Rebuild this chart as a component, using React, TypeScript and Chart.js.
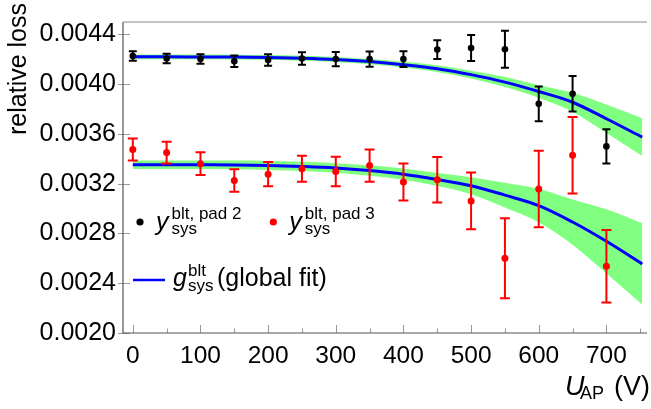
import React, { useEffect, useRef } from "react";
import { Chart, registerables } from "chart.js";

Chart.register(...registerables);

// ---- data ----
const voltages = [0, 50, 100, 150, 200, 250, 300, 350, 400, 450, 500, 550, 600, 650, 700];
const lossPad2 = [0.004227, 0.004207, 0.004202, 0.004184, 0.004195, 0.004207, 0.004202, 0.004202, 0.004202, 0.004278, 0.004291, 0.004281, 0.003842, 0.003923, 0.0035];
const errPad2 = [0.000038, 0.000038, 0.000038, 0.000046, 0.000046, 0.00005, 0.000057, 0.000061, 0.000063, 0.000076, 0.000104, 0.000149, 0.00014, 0.000142, 0.000137];
const lossPad3 = [0.003475, 0.00345, 0.003361, 0.003226, 0.003277, 0.00332, 0.003298, 0.003346, 0.003214, 0.003232, 0.003062, 0.002601, 0.003158, 0.003429, 0.002537];
const errPad3 = [0.000089, 0.000088, 0.000091, 0.000091, 0.000098, 0.000105, 0.000118, 0.00013, 0.000149, 0.000182, 0.000229, 0.000322, 0.000308, 0.000307, 0.000291];

const fitVoltages = [0, 50, 100, 150, 200, 250, 300, 350, 400, 450, 500, 550, 600, 650, 700, 753];
const fitPad2 = [0.00422, 0.00422, 0.004219, 0.004218, 0.004215, 0.004209, 0.004199, 0.004182, 0.004157, 0.004125, 0.004077, 0.004017, 0.003941, 0.003855, 0.003722, 0.003574];
const bandPad2 = [0.000019, 0.000019, 0.000019, 0.000019, 0.000019, 0.00002, 0.00002, 0.000021, 0.000023, 0.000027, 0.000032, 0.00004, 0.000051, 0.000076, 0.000114, 0.000152];
const fitPad3 = [0.003353, 0.003353, 0.003352, 0.003351, 0.003347, 0.003339, 0.003327, 0.003306, 0.003277, 0.003234, 0.003184, 0.003108, 0.003024, 0.002892, 0.002737, 0.002555];
const bandPad3 = [0.000034, 0.000034, 0.000034, 0.000035, 0.000036, 0.000037, 0.000038, 0.000042, 0.000046, 0.000053, 0.000068, 0.000099, 0.000133, 0.000182, 0.000258, 0.000327];

const xMajorTicks = [0, 100, 200, 300, 400, 500, 600, 700];
const xMinorTicks = [50, 150, 250, 350, 450, 550, 650, 750];
const yMajorTicks = [0.002, 0.0024, 0.0028, 0.0032, 0.0036, 0.004, 0.0044];

const FONT = '"Liberation Sans", Arial, sans-serif';
const GREEN = "#80ff80";
const BLUE = "#0000ff";

const pts = (xs: number[], ys: number[]) => xs.map((x, i) => ({ x, y: ys[i] }));
const shifted = (xs: number[], ys: number[], d: number[], s: number) =>
  xs.map((x, i) => ({ x, y: ys[i] + s * d[i] }));

const errorBarPlugin = {
  id: "errorBars",
  beforeDatasetDraw(chart: any, args: any) {
    const ds = chart.data.datasets[args.index];
    if (!ds.errorBars) return;
    const { ctx, scales } = chart;
    const xs = scales.x;
    const ys = scales.y;
    ctx.save();
    ctx.strokeStyle = ds.errorColor;
    ctx.lineWidth = 2;
    ds.data.forEach((p: any, i: number) => {
      const e = ds.errorBars[i];
      const px = xs.getPixelForValue(p.x);
      const top = ys.getPixelForValue(p.y + e);
      const bot = ys.getPixelForValue(p.y - e);
      const c = ds.capHalf;
      ctx.beginPath();
      ctx.moveTo(px, top);
      ctx.lineTo(px, bot);
      ctx.moveTo(px - c, top);
      ctx.lineTo(px + c, top);
      ctx.moveTo(px - c, bot);
      ctx.lineTo(px + c, bot);
      ctx.stroke();
    });
    ctx.restore();
  },
};

const axesPlugin = {
  id: "mmaAxes",
  afterDraw(chart: any) {
    const { ctx, chartArea, scales } = chart;
    const { left, right, top, bottom } = chartArea;
    const xs = scales.x;
    const ys = scales.y;
    ctx.save();
    // ticks
    ctx.strokeStyle = "#9a9a9a";
    ctx.lineWidth = 1;
    ctx.beginPath();
    xMajorTicks.forEach((v) => {
      const px = Math.round(xs.getPixelForValue(v)) + 0.5;
      ctx.moveTo(px, bottom);
      ctx.lineTo(px, bottom - 8);
    });
    xMinorTicks.forEach((v) => {
      const px = Math.round(xs.getPixelForValue(v)) + 0.5;
      ctx.moveTo(px, bottom);
      ctx.lineTo(px, bottom - 4.5);
    });
    yMajorTicks.forEach((v) => {
      const py = Math.round(ys.getPixelForValue(v)) + 0.5;
      ctx.moveTo(left - 5, py);
      ctx.lineTo(left + 7, py);
    });
    ctx.stroke();
    // axis lines
    ctx.strokeStyle = "#555555";
    ctx.lineWidth = 1.2;
    ctx.beginPath();
    ctx.moveTo(left, top);
    ctx.lineTo(left, bottom);
    ctx.lineTo(right, bottom);
    ctx.stroke();
    ctx.strokeStyle = "#8a8a8a";
    ctx.beginPath();
    ctx.moveTo(left, top);
    ctx.lineTo(right, top);
    ctx.stroke();

    // axis titles
    ctx.fillStyle = "#000";
    ctx.textBaseline = "alphabetic";
    ctx.save();
    ctx.translate(26, 69);
    ctx.rotate(-Math.PI / 2);
    ctx.textAlign = "center";
    ctx.font = `25px ${FONT}`;
    ctx.fillText("relative loss", 0, 0);
    ctx.restore();

    ctx.textAlign = "left";
    ctx.font = `italic 27px ${FONT}`;
    ctx.fillText("U", 565, 395);
    ctx.font = `18px ${FONT}`;
    ctx.fillText("AP", 580, 399);
    ctx.font = `27px ${FONT}`;
    ctx.textAlign = "right";
    ctx.fillText("(V)", 650, 395);

    // legend
    ctx.textAlign = "left";
    const entry = (dotX: number, color: string, sup: string) => {
      ctx.fillStyle = color;
      ctx.beginPath();
      ctx.arc(dotX, 222, 3.6, 0, Math.PI * 2);
      ctx.fill();
      ctx.fillStyle = "#000";
      ctx.font = `italic 25px ${FONT}`;
      ctx.fillText("y", dotX + 16, 229.5);
      ctx.font = `17px ${FONT}`;
      ctx.fillText(sup, dotX + 31.5, 218.5);
      ctx.fillText("sys", dotX + 31.5, 233.5);
    };
    entry(140, "#000000", "blt, pad 2");
    entry(273.3, "#ff0000", "blt, pad 3");

    ctx.strokeStyle = BLUE;
    ctx.lineWidth = 2.5;
    ctx.beginPath();
    ctx.moveTo(133, 280);
    ctx.lineTo(165, 280);
    ctx.stroke();
    ctx.fillStyle = "#000";
    ctx.font = `italic 25px ${FONT}`;
    ctx.fillText("g", 173, 285.5);
    ctx.font = `17px ${FONT}`;
    ctx.fillText("blt", 188, 275.5);
    ctx.fillText("sys", 188, 291);
    ctx.font = `25px ${FONT}`;
    ctx.fillText("(global fit)", 217, 285.5);
    ctx.restore();
  },
};

export default function App() {
  const ref = useRef<HTMLCanvasElement>(null);
  useEffect(() => {
    const lineBase = {
      showLine: true,
      pointRadius: 0,
      cubicInterpolationMode: "monotone" as const,
    };
    const chart = new Chart(ref.current as HTMLCanvasElement, {
      type: "line",
      data: {
        datasets: [
          {
            ...lineBase,
            data: pts(voltages, lossPad2),
            showLine: false,
            pointRadius: 3.3,
            pointBackgroundColor: "#000",
            pointBorderWidth: 0,
            borderColor: "#000",
            order: 0,
            errorBars: errPad2,
            errorColor: "#000",
            capHalf: 4,
          } as any,
          {
            ...lineBase,
            data: pts(voltages, lossPad3),
            showLine: false,
            pointRadius: 3.5,
            pointBackgroundColor: "#ff0000",
            pointBorderWidth: 0,
            borderColor: "#ff0000",
            order: 1,
            errorBars: errPad3,
            errorColor: "#ff0000",
            capHalf: 5,
          } as any,
          { ...lineBase, data: pts(fitVoltages, fitPad2), borderColor: BLUE, borderWidth: 3, fill: false, order: 2 },
          { ...lineBase, data: pts(fitVoltages, fitPad3), borderColor: BLUE, borderWidth: 3, fill: false, order: 3 },
          { ...lineBase, data: shifted(fitVoltages, fitPad2, bandPad2, -1), borderWidth: 0, borderColor: "rgba(0,0,0,0)", fill: false, order: 5 },
          { ...lineBase, data: shifted(fitVoltages, fitPad2, bandPad2, 1), borderWidth: 0, borderColor: "rgba(0,0,0,0)", backgroundColor: GREEN, fill: "-1", order: 4 },
          { ...lineBase, data: shifted(fitVoltages, fitPad3, bandPad3, -1), borderWidth: 0, borderColor: "rgba(0,0,0,0)", fill: false, order: 7 },
          { ...lineBase, data: shifted(fitVoltages, fitPad3, bandPad3, 1), borderWidth: 0, borderColor: "rgba(0,0,0,0)", backgroundColor: GREEN, fill: "-1", order: 6 },
        ],
      },
      options: {
        animation: false,
        responsive: false,
        events: [],
        layout: { padding: { left: 0, right: 3, top: 4, bottom: 0 } },
        plugins: {
          legend: { display: false },
          tooltip: { enabled: false },
          filler: { propagate: false },
        },
        scales: {
          x: {
            type: "linear",
            min: -14.5,
            max: 760,
            grid: { display: false, drawTicks: false },
            border: { display: false },
            afterBuildTicks: (scale: any) => {
              scale.ticks = xMajorTicks.map((v) => ({ value: v }));
            },
            afterFit: (scale: any) => {
              scale.height = 76;
            },
            ticks: {
              font: { family: FONT, size: 24.5 },
              color: "#000",
              padding: 9,
              maxRotation: 0,
              callback: (v: any) => String(v),
            },
          },
          y: {
            type: "linear",
            min: 0.002,
            max: 0.0045,
            grid: { display: false, drawTicks: false },
            border: { display: false },
            afterBuildTicks: (scale: any) => {
              scale.ticks = yMajorTicks.map((v) => ({ value: v }));
            },
            afterFit: (scale: any) => {
              scale.width = 123;
            },
            ticks: {
              font: { family: FONT, size: 25 },
              color: "#000",
              padding: 7,
              callback: (v: any) => Number(v).toFixed(4),
            },
          },
        },
      },
      plugins: [errorBarPlugin, axesPlugin],
    } as any);
    return () => chart.destroy();
  }, []);
  return (
    <div style={{ position: "fixed", left: 0, top: 0, width: 651, height: 409, background: "#fff" }}>
      <canvas ref={ref} width={651} height={409} style={{ display: "block" }} />
    </div>
  );
}
